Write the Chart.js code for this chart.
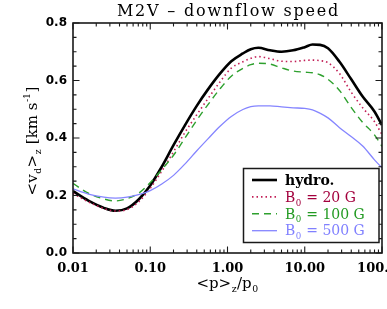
<!DOCTYPE html>
<html><head><meta charset="utf-8">
<script src="https://cdn.jsdelivr.net/npm/chart.js@4/dist/chart.umd.min.js"></script>
<style>html,body{margin:0;padding:0;background:#fff}#wrap{width:387px;height:309px;position:relative}</style>
</head><body><div id="wrap"><canvas id="c" width="387" height="309"></canvas></div>
<script>
// <p>_z / p_0 sample points
const pressure = [0.010, 0.0158, 0.0251, 0.0355, 0.0501, 0.0708, 0.100, 0.141, 0.200, 0.282, 0.398, 0.562, 0.794, 1.12, 1.58, 2.00, 2.51, 3.55, 5.01, 7.08, 10.0, 12.6, 15.8, 20.0, 28.2, 39.8, 56.2, 79.4, 100];
const hydro = [0.215, 0.182, 0.157, 0.147, 0.155, 0.186, 0.235, 0.300, 0.375, 0.445, 0.511, 0.570, 0.623, 0.667, 0.694, 0.709, 0.714, 0.705, 0.700, 0.705, 0.716, 0.725, 0.724, 0.712, 0.665, 0.605, 0.544, 0.493, 0.445];
const b20 = [0.207, 0.178, 0.155, 0.146, 0.151, 0.178, 0.225, 0.285, 0.352, 0.420, 0.480, 0.538, 0.594, 0.643, 0.665, 0.677, 0.683, 0.676, 0.667, 0.666, 0.670, 0.671, 0.669, 0.662, 0.624, 0.560, 0.505, 0.458, 0.412];
const b100 = [0.242, 0.208, 0.188, 0.181, 0.189, 0.208, 0.245, 0.290, 0.340, 0.400, 0.461, 0.517, 0.570, 0.615, 0.642, 0.655, 0.660, 0.657, 0.644, 0.633, 0.629, 0.627, 0.620, 0.604, 0.565, 0.507, 0.454, 0.412, 0.371];
const b500 = [0.223, 0.205, 0.194, 0.191, 0.194, 0.203, 0.217, 0.240, 0.270, 0.310, 0.355, 0.398, 0.440, 0.475, 0.499, 0.509, 0.512, 0.512, 0.508, 0.505, 0.503, 0.498, 0.486, 0.470, 0.436, 0.405, 0.372, 0.325, 0.296];
const seriesLabels = ['hydro.', 'B₀ = 20 G', 'B₀ = 100 G', 'B₀ = 500 G'];
const xTickValues = [0.01, 0.1, 1, 10, 100];
const yTickValues = [0.0, 0.2, 0.4, 0.6, 0.8];
const titleText = 'M2V – downflow speed';

const lineColors = ['#000000', '#c21e56', '#2ea02e', '#8585ff'];
const textColors = ['#000000', '#a3003d', '#229a22', '#8080ff'];
const widths = [2.6, 1.6, 1.4, 1.3];
const dashes = [[], [1.5, 3], [7, 5], []];
const legendParts = [
  [{t:'hydro.'}],
  [{t:'B'},{t:'0',sub:true},{t:' = 20 G'}],
  [{t:'B'},{t:'0',sub:true},{t:' = 100 G'}],
  [{t:'B'},{t:'0',sub:true},{t:' = 500 G'}]
];

const series = [hydro, b20, b100, b500];
const datasets = series.map((s, k) => ({
  label: seriesLabels[k],
  data: pressure.map((p, i) => ({x: p, y: s[i]})),
  borderColor: lineColors[k],
  backgroundColor: lineColors[k],
  borderWidth: widths[k],
  borderDash: dashes[k],
  pointRadius: 0,
  fill: false,
  cubicInterpolationMode: 'monotone',
  order: 4 - k
}));

function fontStr(size, weight, fam) { return (weight ? weight + ' ' : '') + size + 'px ' + fam; }
function richWidth(ctx, parts, size, weight, fam) {
  let w = 0;
  for (const p of parts) {
    const s = (p.sub || p.sup) ? size * 0.62 : size;
    ctx.font = fontStr(s, weight, fam);
    w += ctx.measureText(p.t).width + (p.sub || p.sup ? 1 : 0);
  }
  return w;
}
function drawRich(ctx, parts, x, y, size, weight, fam, color, align) {
  ctx.save();
  ctx.fillStyle = color;
  ctx.textBaseline = 'alphabetic';
  ctx.textAlign = 'left';
  let cx = x;
  if (align === 'center') cx = x - richWidth(ctx, parts, size, weight, fam) / 2;
  for (const p of parts) {
    const s = (p.sub || p.sup) ? size * 0.62 : size;
    ctx.font = fontStr(s, weight, fam);
    let dy = 0;
    if (p.sub) dy = size * 0.28;
    if (p.sup) dy = -size * 0.42;
    ctx.fillText(p.t, cx + (p.sub || p.sup ? 0.5 : 0), y + dy);
    cx += ctx.measureText(p.t).width + (p.sub || p.sup ? 1 : 0);
  }
  ctx.restore();
}

const decorPlugin = {
  id: 'decor',
  afterDraw(chart) {
    const ctx = chart.ctx;
    const a = chart.chartArea;
    const xs = chart.scales.x, ys = chart.scales.y;
    ctx.save();
    // frame
    ctx.strokeStyle = '#1a1a1a';
    ctx.lineWidth = 1.6;
    ctx.strokeRect(a.left, a.top, a.right - a.left, a.bottom - a.top);
    // ticks
    ctx.lineWidth = 1.1;
    ctx.beginPath();
    const yMin = ys.min, yMax = ys.max;
    for (let v = yMin; v <= yMax + 1e-9; v += 0.05) {
      const py = ys.getPixelForValue(v);
      const major = yTickValues.some(t => Math.abs(t - v) < 1e-6);
      const L = major ? 6.5 : 3.5;
      ctx.moveTo(a.left, py); ctx.lineTo(a.left + L, py);
      ctx.moveTo(a.right, py); ctx.lineTo(a.right - L, py);
    }
    for (let d = 0; d < xTickValues.length; d++) {
      const base = xTickValues[d];
      for (let k = 1; k <= 9; k++) {
        const v = base * k;
        if (v > xs.max * 1.0001) break;
        const px = xs.getPixelForValue(v);
        const L = k === 1 ? 6.5 : 3.5;
        ctx.moveTo(px, a.bottom); ctx.lineTo(px, a.bottom - L);
        ctx.moveTo(px, a.top); ctx.lineTo(px, a.top + L);
      }
    }
    ctx.stroke();

    // title
    ctx.font = '16px "DejaVu Serif"';
    ctx.fillStyle = '#000';
    ctx.textAlign = 'center';
    ctx.textBaseline = 'alphabetic';
    try { ctx.letterSpacing = '1.8px'; } catch (e) {}
    ctx.fillText(titleText, (a.left + a.right) / 2 + 1, 16);
    try { ctx.letterSpacing = '0px'; } catch (e) {}

    // x axis title
    drawRich(ctx, [{t:'<p>'},{t:'z',sub:true},{t:'/p'},{t:'0',sub:true}], (a.left + a.right) / 2, 288, 15, '', '"DejaVu Serif"', '#000', 'center');
    // y axis title
    ctx.save();
    ctx.translate(36.5, (a.top + a.bottom) / 2 + 3);
    ctx.rotate(-Math.PI / 2);
    drawRich(ctx, [{t:'<v'},{t:'d',sub:true},{t:'>'},{t:'z',sub:true},{t:' [km s'},{t:'-1',sup:true},{t:']'}], 0, 0, 15, '', '"DejaVu Serif"', '#000', 'center');
    ctx.restore();

    // legend
    const bx = 243.5, by = 168.5, bw = 135.5, bh = 74;
    ctx.fillStyle = '#fff';
    ctx.fillRect(bx, by, bw, bh);
    ctx.strokeStyle = '#1a1a1a';
    ctx.lineWidth = 1.5;
    ctx.strokeRect(bx, by, bw, bh);
    chart.data.datasets.forEach((ds, i) => {
      const ly = 180 + i * 16.9;
      ctx.save();
      ctx.strokeStyle = ds.borderColor;
      ctx.lineWidth = ds.borderWidth;
      ctx.setLineDash(ds.borderDash || []);
      ctx.beginPath();
      ctx.moveTo(252, ly); ctx.lineTo(277, ly);
      ctx.stroke();
      ctx.restore();
      const wt = i === 0 ? 'bold' : '';
      drawRich(ctx, legendParts[i], 285, ly + 4.7, 14, wt, '"DejaVu Serif"', textColors[i], 'left');
    });
    ctx.restore();
  }
};

new Chart(document.getElementById('c'), {
  type: 'line',
  data: { datasets },
  options: {
    responsive: false,
    animation: false,
    devicePixelRatio: 1,
    layout: { padding: { top: 23, right: 5, left: 0, bottom: 0 } },
    plugins: { legend: { display: false }, title: { display: false }, tooltip: { enabled: false } },
    scales: {
      x: {
        type: 'logarithmic',
        min: 0.01, max: 100,
        afterBuildTicks: s => { s.ticks = xTickValues.map(v => ({ value: v, major: true })); },
        afterFit: s => { s.height = 56; s.paddingRight = 0; },
        ticks: {
          callback: v => Number(v).toFixed(2),
          font: { family: '"DejaVu Serif"', size: 13, weight: 'bold' },
          color: '#000', padding: 8, maxRotation: 0, minRotation: 0, autoSkip: false
        },
        grid: { display: false, drawTicks: false, drawOnChartArea: false },
        border: { display: false }
      },
      y: {
        type: 'linear',
        min: 0, max: 0.8,
        afterBuildTicks: s => { s.ticks = yTickValues.map(v => ({ value: v })); },
        afterFit: s => { s.width = 73; },
        ticks: {
          callback: v => Number(v).toFixed(1),
          font: { family: '"DejaVu Sans"', size: 12, weight: 'bold' },
          color: '#000', padding: 6
        },
        grid: { display: false, drawTicks: false, drawOnChartArea: false },
        border: { display: false }
      }
    }
  },
  plugins: [decorPlugin]
});
</script>
</body></html>
